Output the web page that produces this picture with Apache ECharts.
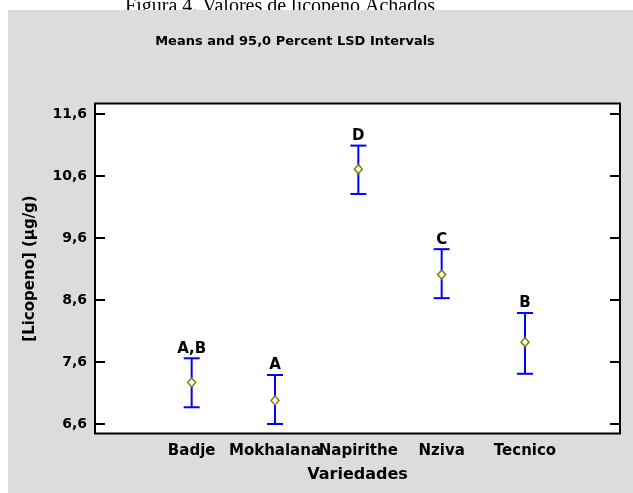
<!DOCTYPE html>
<html>
<head>
<meta charset="utf-8">
<script src="https://cdn.jsdelivr.net/npm/echarts@6/dist/echarts.min.js"></script>
<style>
html,body{margin:0;padding:0;background:#fff;}
#chart{width:633px;height:493px;}
</style>
</head>
<body>
<div id="chart"></div>
<script>
const categories = ['Badje', 'Mokhalana', 'Napirithe', 'Nziva', 'Tecnico'];
const means = [7.27, 6.98, 10.71, 9.01, 7.92];
const lower = [6.87, 6.60, 10.31, 8.63, 7.41];
const upper = [7.66, 7.39, 11.09, 9.42, 8.39];
const groups = ['A,B', 'A', 'D', 'C', 'B'];
const yTicks = [6.6, 7.6, 8.6, 9.6, 10.6, 11.6];
const xPositions = [1, 2, 3, 4, 5];

const FONT = 'DejaVu Sans';
const chart = echarts.init(document.getElementById('chart'), null, {renderer: 'canvas'});

const barData = categories.map((c, i) => [xPositions[i], lower[i], upper[i], means[i], groups[i]]);
const meanData = categories.map((c, i) => [xPositions[i], means[i]]);

const fmtY = v => Number(v).toFixed(1).replace('.', ',');

const option = {
  backgroundColor: '#ffffff',
  animation: false,
  graphic: [
    {
      type: 'text', x: 280, y: 7, z: 0, zlevel: 0,
      style: {
        text: 'Figura 4. Valores de licopeno Achados',
        font: '20px "Liberation Serif", "Times New Roman", serif',
        fill: '#000', align: 'center', verticalAlign: 'middle'
      }
    },
    {
      type: 'rect', x: 8, y: 10, z: 1, zlevel: 0,
      shape: {x: 0, y: 0, width: 625, height: 483},
      style: {fill: '#DCDCDC'}
    },
    {
      type: 'text', x: 295, y: 42, z: 2, zlevel: 0,
      style: {
        text: 'Means and 95,0 Percent LSD Intervals',
        font: 'bold 13px "DejaVu Sans"',
        fill: '#000', align: 'center', verticalAlign: 'middle'
      }
    }
  ],
  grid: {
    left: 95, right: 13, top: 103.5, bottom: 59.5,
    show: true, backgroundColor: '#ffffff', borderColor: '#000', borderWidth: 2,
    z: 3
  },
  xAxis: {
    type: 'value',
    z: 4,
    min: -0.16, max: 6.14,
    splitLine: {show: false},
    axisLine: {show: false, onZero: false},
    axisTick: {show: false},
    axisLabel: {
      customValues: xPositions,
      formatter: v => categories[Math.round(v) - 1] || '',
      fontFamily: FONT, fontWeight: 'bold', fontSize: 15, color: '#000',
      margin: 10
    },
    name: 'Variedades',
    nameLocation: 'middle',
    nameGap: 33,
    nameTextStyle: {fontFamily: FONT, fontWeight: 'bold', fontSize: 16, color: '#000'}
  },
  yAxis: [
    {
      type: 'value',
      z: 4,
      min: 6.447, max: 11.769,
      position: 'left',
      splitLine: {show: false},
      axisLine: {show: false, onZero: false},
      axisTick: {show: true, inside: true, length: 10, customValues: yTicks, lineStyle: {color: '#000', width: 2}},
      axisLabel: {
        customValues: yTicks, formatter: fmtY,
        fontFamily: FONT, fontWeight: 'bold', fontSize: 14, color: '#000', margin: 8
      },
      name: '[Licopeno] (μg/g)',
      nameLocation: 'middle',
      nameGap: 57,
      nameTextStyle: {fontFamily: FONT, fontWeight: 'bold', fontSize: 15, color: '#000'}
    },
    {
      type: 'value',
      z: 4,
      min: 6.447, max: 11.769,
      position: 'right',
      splitLine: {show: false},
      axisLine: {show: false, onZero: false},
      axisTick: {show: true, inside: true, length: 10, customValues: yTicks, lineStyle: {color: '#000', width: 2}},
      axisLabel: {show: false}
    }
  ],
  series: [
    {
      type: 'custom',
      z: 5,
      data: barData,
      renderItem: function (params, api) {
        const x = api.value(0);
        const lo = api.coord([x, api.value(1)]);
        const hi = api.coord([x, api.value(2)]);
        const hw = 8;
        const st = {stroke: '#0000FF', lineWidth: 2};
        return {
          type: 'group',
          children: [
            {type: 'line', shape: {x1: lo[0], y1: lo[1], x2: hi[0], y2: hi[1]}, style: st},
            {type: 'line', shape: {x1: lo[0] - hw, y1: lo[1], x2: lo[0] + hw, y2: lo[1]}, style: st},
            {type: 'line', shape: {x1: hi[0] - hw, y1: hi[1], x2: hi[0] + hw, y2: hi[1]}, style: st},
            {type: 'text', x: hi[0], y: hi[1] - 2, style: {
              text: groups[params.dataIndex],
              font: 'bold 15px "DejaVu Sans"', fill: '#000',
              align: 'center', verticalAlign: 'bottom'
            }}
          ]
        };
      }
    },
    {
      type: 'scatter',
      z: 6,
      data: meanData,
      symbol: 'diamond',
      symbolSize: [8, 9],
      itemStyle: {color: '#ffffff', borderColor: '#808000', borderWidth: 1.5, opacity: 1}
    }
  ]
};
chart.setOption(option);
</script>
</body>
</html>
